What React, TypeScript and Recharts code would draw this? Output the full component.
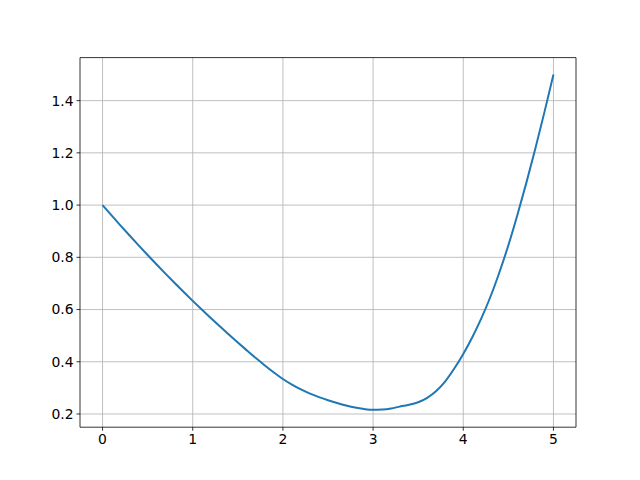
import React from 'react';
import { LineChart, Line, XAxis, YAxis, CartesianGrid, ReferenceArea } from 'recharts';

const xValues = [
  0.0, 0.1, 0.2, 0.3, 0.4, 0.5, 0.6, 0.7, 0.8, 0.9,
  1.0, 1.1, 1.2, 1.3, 1.4, 1.5, 1.6, 1.7, 1.8, 1.9,
  2.0, 2.1, 2.2, 2.3, 2.4, 2.5, 2.6, 2.7, 2.8, 2.9,
  3.0, 3.1, 3.2, 3.3, 3.4, 3.5, 3.6, 3.7, 3.8, 3.9,
  4.0, 4.1, 4.2, 4.3, 4.4, 4.5, 4.6, 4.7, 4.8, 4.9,
  5.0,
];

const yValues = [
  1.0, 0.9605, 0.9216, 0.8834, 0.8458, 0.8088, 0.7724, 0.7367, 0.7016, 0.6671,
  0.6333, 0.6001, 0.5675, 0.5356, 0.5043, 0.4736, 0.4436, 0.4142, 0.386, 0.359,
  0.334, 0.3125, 0.294, 0.278, 0.2645, 0.2525, 0.242, 0.2325, 0.2245, 0.219,
  0.216, 0.217, 0.221, 0.229, 0.235, 0.245, 0.262, 0.288, 0.325, 0.374,
  0.43, 0.494, 0.566, 0.648, 0.742, 0.846, 0.962, 1.086, 1.218, 1.356,
  1.5,
];

const xTicks = [0, 1, 2, 3, 4, 5];
const yTicks = [0.2, 0.4, 0.6, 0.8, 1.0, 1.2, 1.4];

const data = xValues.map((x, i) => ({ x, y: yValues[i] }));

const font = 'DejaVu Sans';
const tickStyle = { fill: '#000', fontSize: 13.9, fontFamily: font };

export default function App() {
  return (
    <div style={{ position: 'absolute', left: 0, top: 0, background: '#fff' }}>
      <LineChart
        width={640}
        height={480}
        data={data}
        margin={{ top: 57.6, right: 64, bottom: 22.8, left: 30 }}
      >
        <CartesianGrid
          stroke="#b0b0b0"
          strokeWidth={0.8}
          verticalValues={xTicks}
          horizontalValues={yTicks}
        />
        <XAxis
          dataKey="x"
          type="number"
          domain={[-0.25, 5.25]}
          ticks={xTicks}
          height={30}
          tickSize={3.5}
          tickMargin={3}
          axisLine={false}
          tickLine={{ stroke: '#000', strokeWidth: 0.8 }}
          tick={tickStyle}
          allowDataOverflow
        />
        <YAxis
          type="number"
          domain={[0.1494, 1.5648]}
          ticks={yTicks}
          width={50}
          tickSize={3.5}
          tickMargin={3}
          axisLine={false}
          tickLine={{ stroke: '#000', strokeWidth: 0.8 }}
          tick={tickStyle}
          tickFormatter={(v: number) => v.toFixed(1)}
          allowDataOverflow
        />
        <ReferenceArea
          x1={-0.25}
          x2={5.25}
          y1={0.1494}
          y2={1.5648}
          fill="none"
          stroke="#000"
          strokeWidth={0.8}
          ifOverflow="visible"
        />
        <Line
          dataKey="y"
          type="monotone"
          stroke="#1f77b4"
          strokeWidth={2}
          dot={false}
          isAnimationActive={false}
        />
      </LineChart>
    </div>
  );
}
